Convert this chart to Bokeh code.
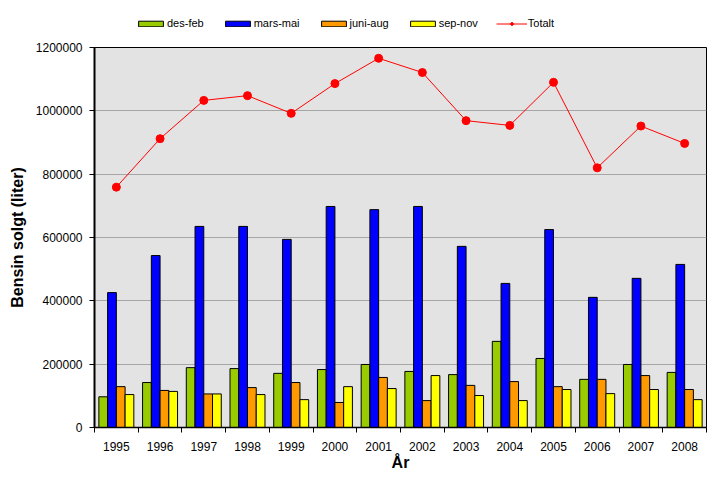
from bokeh.plotting import figure
from bokeh.layouts import column
from bokeh.models import (ColumnDataSource, Range1d, FixedTicker, BasicTickFormatter,
                          Legend, LegendItem)
from bokeh.transform import dodge
from bokeh.embed import file_html
from bokeh.resources import INLINE

years = [1995, 1996, 1997, 1998, 1999, 2000, 2001, 2002, 2003, 2004, 2005, 2006, 2007, 2008]
year_labels = [str(y) for y in years]
des_feb = [97000, 142000, 189000, 186000, 171000, 183000, 199000, 177000, 167000, 272000, 218000, 152000, 199000, 174000]
mars_mai = [426000, 543000, 635000, 635000, 594000, 698000, 688000, 698000, 572000, 455000, 625000, 411000, 471000, 515000]
juni_aug = [129000, 117000, 106000, 126000, 142000, 79000, 158000, 85000, 133000, 145000, 129000, 152000, 164000, 120000]
sep_nov = [104000, 114000, 106000, 104000, 88000, 129000, 123000, 164000, 101000, 85000, 120000, 107000, 120000, 88000]
totalt = [759000, 912000, 1033000, 1048000, 992000, 1086000, 1166000, 1121000, 969000, 954000, 1090000, 820000, 952000, 897000]
y_ticks = [0, 200000, 400000, 600000, 800000, 1000000, 1200000]

series_names = ["des-feb", "mars-mai", "juni-aug", "sep-nov"]
series_cols = ["des_feb", "mars_mai", "juni_aug", "sep_nov"]
series_colors = ["#99CC00", "#0000FF", "#FF9900", "#FFFF00"]
offsets = [-0.3, -0.1, 0.1, 0.3]

src = ColumnDataSource(dict(year=years, des_feb=des_feb, mars_mai=mars_mai,
                            juni_aug=juni_aug, sep_nov=sep_nov, totalt=totalt))

FONT = "Liberation Sans"
LEG_H = 40

# ---------------- main chart ----------------
p = figure(width=712, height=480 - LEG_H, output_backend="svg", toolbar_location=None,
           x_range=Range1d(years[0] - 0.5, years[-1] + 0.5),
           y_range=Range1d(0, 1200000),
           min_border_left=94, min_border_right=6, min_border_top=47 - LEG_H, min_border_bottom=53,
           background_fill_color="#E3E3E3", border_fill_color="white",
           outline_line_color="black", outline_line_width=1)

for col, color, off in zip(series_cols, series_colors, offsets):
    p.vbar(x=dodge("year", off, range=p.x_range), top=col, width=0.2, source=src,
           fill_color=color, line_color="black", line_width=1)

p.line("year", "totalt", source=src, line_color="#FF0000", line_width=1)
p.scatter("year", "totalt", source=src, size=8, fill_color="#FF0000", line_color="#FF0000")

# grids
p.xgrid.visible = False
p.ygrid.ticker = FixedTicker(ticks=y_ticks)
p.ygrid.grid_line_color = "#A6A6A6"
p.ygrid.grid_line_width = 1

# x axis
xa = p.xaxis[0]
xa.ticker = FixedTicker(ticks=years, minor_ticks=[y - 0.5 for y in years] + [years[-1] + 0.5])
xa.major_label_overrides = {y: l for y, l in zip(years, year_labels)}
xa.major_tick_line_color = None
xa.major_tick_out = 5
xa.major_tick_in = 0
xa.minor_tick_line_color = "black"
xa.minor_tick_out = 5
xa.minor_tick_in = 0
xa.major_label_standoff = 9
xa.major_label_text_font = FONT
xa.major_label_text_font_size = "12px"
xa.major_label_text_color = "black"
xa.axis_line_color = "black"
xa.axis_line_width = 1.5
xa.axis_label = "År"
xa.axis_label_text_font = FONT
xa.axis_label_text_font_size = "16px"
xa.axis_label_text_font_style = "bold"
xa.axis_label_text_color = "black"
xa.axis_label_standoff = 0

# y axis
ya = p.yaxis[0]
ya.ticker = FixedTicker(ticks=y_ticks)
ya.formatter = BasicTickFormatter(use_scientific=False)
ya.major_tick_out = 5
ya.major_tick_in = 0
ya.major_tick_line_color = "black"
ya.minor_tick_line_color = None
ya.major_label_standoff = 7
ya.major_label_text_font = FONT
ya.major_label_text_font_size = "12px"
ya.major_label_text_color = "black"
ya.axis_line_color = "black"
ya.axis_line_width = 2
ya.axis_label = "Bensin solgt (liter)"
ya.axis_label_text_font = FONT
ya.axis_label_text_font_size = "16px"
ya.axis_label_text_font_style = "bold"
ya.axis_label_text_color = "black"
ya.axis_label_standoff = 7

# ---------------- legend strip (same data, scrolled out of its view) ----------------
lf = figure(width=712, height=LEG_H, output_backend="svg", toolbar_location=None,
            x_range=Range1d(2040, 2054), y_range=Range1d(5000000, 6200000), min_border=0,
            outline_line_color=None, border_fill_color="white", background_fill_color="white")
lf.axis.visible = False
lf.grid.visible = False

items = []
for name, col, color, off in zip(series_names, series_cols, series_colors, offsets):
    r = lf.vbar(x=dodge("year", off, range=p.x_range), top=col, width=0.2, source=src,
                fill_color=color, line_color="black", line_width=1)
    items.append(LegendItem(label=name, renderers=[r]))
ln = lf.line("year", "totalt", source=src, line_color="#FF0000", line_width=1)
sc = lf.scatter("year", "totalt", source=src, size=8, fill_color="#FF0000", line_color="#FF0000")
items.append(LegendItem(label="Totalt", renderers=[ln, sc]))

legend = Legend(items=items, orientation="horizontal", location=(41, 7),
                glyph_width=31, glyph_height=7, label_standoff=1, spacing=18,
                padding=0, margin=0, border_line_color=None, background_fill_alpha=0,
                label_text_font=FONT, label_text_font_size="11px", label_height=20,
                label_text_color="black")
lf.add_layout(legend, "center")

layout = column(lf, p, spacing=0)
open("out.html", "w").write(file_html(layout, INLINE))
